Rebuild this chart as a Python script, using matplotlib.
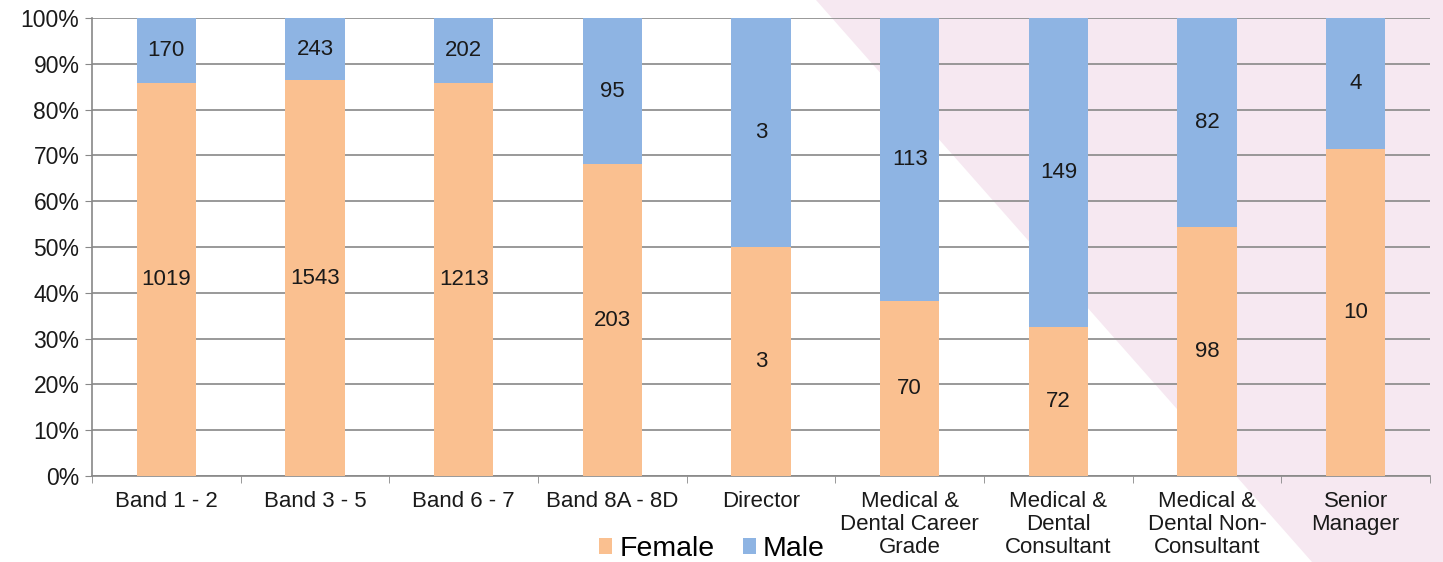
import matplotlib.pyplot as plt
import numpy as np
from matplotlib.patches import Polygon

plt.rcParams['font.family'] = ['Liberation Sans', 'DejaVu Sans']

# Dane
categories = ['Band 1 - 2', 'Band 3 - 5', 'Band 6 - 7', 'Band 8A - 8D', 'Director',
              'Medical &\nDental Career\nGrade', 'Medical &\nDental\nConsultant',
              'Medical &\nDental Non-\nConsultant', 'Senior\nManager']
female = np.array([1019, 1543, 1213, 203, 3, 70, 72, 98, 10])
male = np.array([170, 243, 202, 95, 3, 113, 149, 82, 4])

total = female + male
f_pct = female / total * 100
m_pct = male / total * 100

fig = plt.figure(figsize=(14.43, 5.62), dpi=100)

# Rozowe tlo (trojkat)
bg = Polygon([[816 / 1443, 1], [1, 1], [1, 0], [1312 / 1443, 0]], closed=True,
             transform=fig.transFigure, facecolor='#F6E8F1', edgecolor='none', zorder=-5)
fig.patches.append(bg)

ax = fig.add_axes([92 / 1443, 1 - 476 / 562, (1430 - 92) / 1443, (476 - 18) / 562])
ax.set_facecolor('none')
ax.set_zorder(1)

x = np.arange(len(categories))
w = 0.4
ax.bar(x, f_pct, w, color='#FAC090', label='Female', zorder=3)
ax.bar(x, m_pct, w, bottom=f_pct, color='#8EB4E3', label='Male', zorder=3)

for i in range(len(x)):
    ax.text(x[i], f_pct[i] / 2, str(female[i]), ha='center', va='center', fontsize=16, color='#1a1a1a', zorder=4)
    ax.text(x[i], f_pct[i] + m_pct[i] / 2, str(male[i]), ha='center', va='center', fontsize=16, color='#1a1a1a', zorder=4)

ax.set_xlim(-0.5, len(x) - 0.5)
ax.set_ylim(0, 100)
ax.set_yticks(np.arange(0, 101, 10))
ax.set_yticklabels([f'{v}%' for v in range(0, 101, 10)], fontsize=16.5, color='#1a1a1a')
ax.yaxis.grid(True, color='#888888', linewidth=1.2, zorder=1)
ax.set_xticks(x)
ax.set_xticklabels(categories, fontsize=16, linespacing=1.12, color='#1a1a1a')
ax.set_xticks(np.arange(-0.5, len(x), 1), minor=True)
ax.tick_params(axis='x', which='major', length=0, pad=11)
ax.tick_params(axis='x', which='minor', length=5, color='#888888')
ax.tick_params(axis='y', length=5, color='#888888', pad=4)

for s in ['top', 'right']:
    ax.spines[s].set_visible(False)
ax.spines['left'].set_color('#888888')
ax.spines['bottom'].set_color('#888888')
ax.spines['left'].set_linewidth(1.2)
ax.spines['bottom'].set_linewidth(1.2)

fig.legend(loc='center', bbox_to_anchor=(712 / 1443, 1 - 549 / 562), ncol=2, frameon=False,
           fontsize=20.5, handlelength=0.45, handleheight=0.45, handletextpad=0.25, columnspacing=1.0)

fig.savefig('out.png', dpi=100)
